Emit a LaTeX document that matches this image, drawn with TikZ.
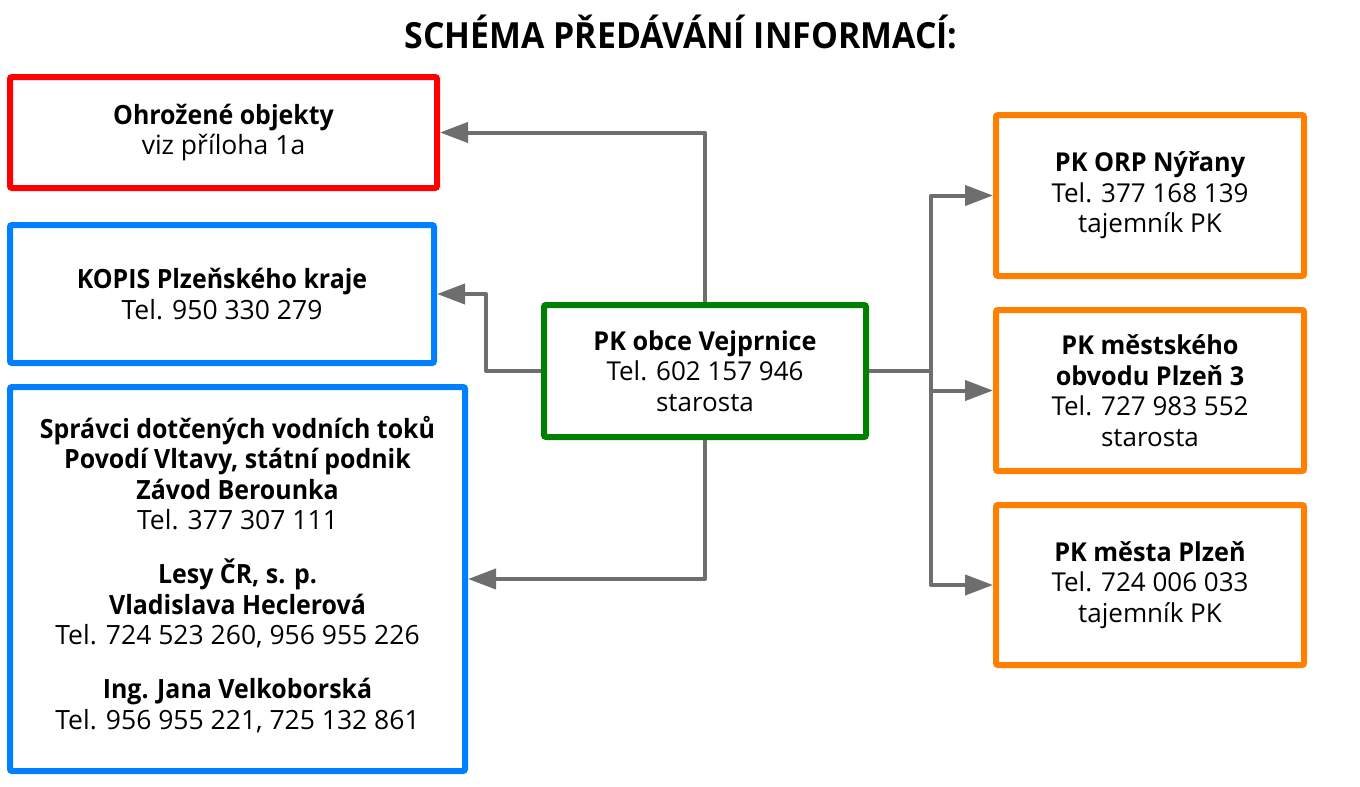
\documentclass[tikz,border=0pt]{standalone}
\usepackage{fontspec}
\setmainfont{Open Sans}
\newfontfamily\rfont[BoldFeatures={FakeStretch=0.97}]{Open Sans}
\newfontfamily\lfont[BoldFeatures={FakeStretch=0.94}]{Open Sans}
\newfontfamily\tfont[FakeStretch=0.94]{Open Sans}
\usetikzlibrary{arrows.meta}
\definecolor{cred}{RGB}{255,0,0}
\definecolor{cblue}{RGB}{0,128,255}
\definecolor{cgreen}{RGB}{0,128,0}
\definecolor{corange}{RGB}{255,128,0}
\definecolor{cgray}{RGB}{110,110,110}
\tikzset{
  box/.style={draw, line width=6pt, rounded corners=2pt, inner sep=0pt, align=center, fill=white},
  lbox/.style={box, font=\lfont\fontsize{26.5}{30.5}\selectfont},
  ltext/.style={inner sep=0pt, align=center, font=\lfont\fontsize{26.5}{30.3}\selectfont},
  rbox/.style={box, font=\rfont\fontsize{26}{30.5}\selectfont},
  link/.style={draw=cgray, line width=4pt, line join=round},
  conn/.style={link, -{Triangle[length=28pt,width=20pt]}},
}
\begin{document}
\begin{tikzpicture}[x=1pt,y=-1pt]
\useasboundingbox (0,0) rectangle (1360,787);
\node[anchor=base, font=\tfont\bfseries\fontsize{36}{40}\selectfont] (title) at (681,48) {SCHÉMA PŘEDÁVÁNÍ INFORMACÍ:};

\node[lbox, draw=cred, minimum width=427pt, minimum height=111pt] (red) at (223.5,132.5)
  {\textbf{Ohrožené objekty}\\viz příloha 1a};
\node[lbox, draw=cblue, minimum width=424pt, minimum height=138pt] (kopis) at (222,294)
  {\textbf{KOPIS Plzeňského kraje}\\Tel. 950 330 279};
\node[box, draw=cblue, minimum width=455pt, minimum height=384pt] (big) at (237.5,579) {};
\node[ltext] (bigtext) at (237.5,574.5)
  {\textbf{Správci dotčených vodních toků}\\\textbf{Povodí Vltavy, státní podnik}\\\textbf{Závod Berounka}\\Tel. 377 307 111\\[24pt]
   \textbf{Lesy ČR, s. p.}\\\textbf{Vladislava Heclerová}\\Tel. 724 523 260, 956 955 226\\[24pt]
   \textbf{Ing. Jana Velkoborská}\\Tel. 956 955 221, 725 132 861};

\node[rbox, draw=cgreen, minimum width=322pt, minimum height=132pt] (green) at (705,371)
  {\textbf{PK obce Vejprnice}\\Tel. 602 157 946\\starosta};

\node[rbox, draw=corange, minimum width=308pt, minimum height=161pt] (o1) at (1150,195.5)
  {\textbf{PK ORP Nýřany}\\Tel. 377 168 139\\tajemník PK};
\node[rbox, draw=corange, minimum width=308pt, minimum height=161pt] (o2) at (1150,390.5)
  {\textbf{PK městského}\\\textbf{obvodu Plzeň 3}\\Tel. 727 983 552\\starosta};
\node[rbox, draw=corange, minimum width=308pt, minimum height=160pt] (o3) at (1150,585)
  {\textbf{PK města Plzeň}\\Tel. 724 006 033\\tajemník PK};

\draw[conn] (green.north) |- (red.east);
\draw[conn] (green.west) -- ++(-55,0) |- (kopis.east);
\draw[conn] (green.south) |- (big.east);
\coordinate (bus) at (931,371);
\draw[link] (green.east) -- (bus);
\draw[conn] (bus) |- (o1.west);
\draw[conn] (bus) |- (o2.west);
\draw[conn] (bus) |- (o3.west);
\end{tikzpicture}
\end{document}
